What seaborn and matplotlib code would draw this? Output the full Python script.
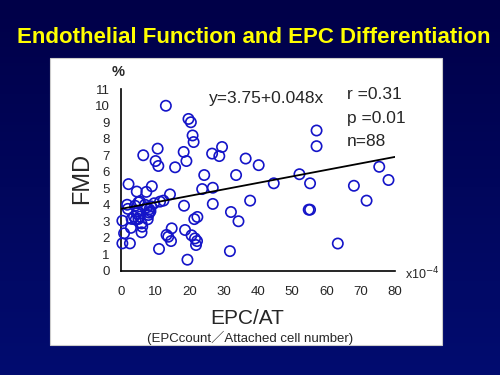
import numpy as np
import seaborn as sns
import matplotlib.pyplot as plt
from matplotlib.patches import Rectangle
from matplotlib.ticker import MultipleLocator

# EPC/AT (x10^-4) and FMD (%), 88 subjects
epc_at = [13.1, 19.7, 20.4, 20.9, 21.2, 6.5, 10.7, 10.1, 10.9, 15.8,
          18.3, 19.1, 24.3, 26.6, 28.7, 29.5, 33.6, 36.4, 40.2, 57.1,
          57.1, 52.1, 75.4, 78.1, 55.2, 68.0, 71.7, 54.8, 55.2, 63.3,
          44.6, 23.7, 26.8, 26.8, 37.7, 32.1, 34.3, 21.4, 22.3, 20.6,
          21.6, 22.2, 21.9, 31.8, 19.4, 18.4, 14.8, 13.3, 13.8, 14.6,
          11.1, 18.7, 14.3, 11.4, 12.4, 9.7, 2.2, 4.6, 7.4, 9.0,
          5.1, 1.8, 2.0, 4.1, 7.5, 8.3, 8.2, 8.0, 7.8, 4.6,
          3.8, 3.1, 5.1, 5.5, 6.0, 0.4, 2.9, 6.2, 6.0, 0.9,
          0.4, 2.6, 5.5, 8.6, 4.9, 7.0, 4.3, 8.8]
fmd = [10.0, 9.2, 9.0, 8.2, 7.8, 7.0, 7.4, 6.65, 6.35, 6.27,
       7.2, 6.65, 5.8, 7.1, 6.95, 7.5, 5.8, 6.8, 6.4, 8.5,
       7.55, 5.85, 6.3, 5.5, 5.3, 5.15, 4.25, 3.7, 3.7, 1.65,
       5.3, 4.95, 5.03, 4.05, 4.25, 3.56, 3.0, 3.13, 3.26, 2.15,
       1.96, 1.8, 1.56, 1.19, 0.67, 3.94, 2.57, 2.17, 2.06, 1.8,
       1.32, 2.47, 4.63, 4.19, 4.25, 4.09, 5.25, 4.8, 4.78, 5.12,
       4.15, 4.0, 3.75, 3.94, 3.84, 3.72, 3.52, 3.38, 3.12, 3.48,
       3.28, 3.14, 3.14, 3.28, 2.87, 3.03, 2.6, 2.67, 2.33, 2.27,
       1.66, 1.66, 4.2, 3.6, 3.6, 4.0, 3.1, 3.9]

# regression line as drawn on the slide
fit_x = [0, 80]
fit_y = [3.75, 6.9]

stats_text = ["r =0.31", "p =0.01", "n=88"]

sns.set_style("white")
plt.rcParams['font.family'] = ['Liberation Sans', 'DejaVu Sans']

fig = plt.figure(figsize=(5, 3.75), dpi=100)

# dark blue slide background
bg = fig.add_axes([0, 0, 1, 1], zorder=-10)
grad = np.linspace(0, 1, 256).reshape(-1, 1)
bg.imshow(grad, aspect='auto', extent=[0, 1, 0, 1], origin='upper',
          cmap=plt.matplotlib.colors.LinearSegmentedColormap.from_list(
              'slide', ['#000048', '#020c70']))
bg.axis('off')

# white panel
fig.patches.append(Rectangle((0.1, 0.08), 0.784, 0.765, transform=fig.transFigure,
                             facecolor='white', edgecolor='#cccccc', lw=0.8, zorder=-5))

fig.text(0.508, 0.899, "Endothelial Function and EPC Differentiation",
         ha='center', va='center', color='#ffff00', fontsize=16, fontweight='bold')

ax = fig.add_axes([0.242, 0.278, 0.548, 0.484])
ax.set_facecolor('none')
sns.scatterplot(x=epc_at, y=fmd, ax=ax, marker='o', s=55, facecolor='none',
                edgecolor='#1414c8', linewidth=1.2, clip_on=False, zorder=3)
sns.lineplot(x=fit_x, y=fit_y, ax=ax, color='black', lw=1.3, zorder=4)

ax.set_xlim(0, 80)
ax.set_ylim(0, 11)
ax.xaxis.set_major_locator(MultipleLocator(10))
ax.xaxis.set_minor_locator(MultipleLocator(5))
ax.yaxis.set_major_locator(MultipleLocator(1))
for s in ['top', 'right']:
    ax.spines[s].set_visible(False)
for s in ['left', 'bottom']:
    ax.spines[s].set_color('black')
    ax.spines[s].set_linewidth(1.2)
ax.tick_params(axis='both', which='both', direction='out', color='black',
               labelsize=9.5, width=1.0)
ax.tick_params(axis='x', which='major', length=4, pad=7)
ax.tick_params(axis='x', which='minor', length=4)
ax.tick_params(axis='y', which='major', length=4, pad=4)

ax.text(0.32, 0.95, "y=3.75+0.048x", transform=ax.transAxes, fontsize=12.5,
        ha='left', va='center')
for i, t in enumerate(stats_text):
    ax.text(0.824, 0.97 - i * 0.13, t, transform=ax.transAxes, fontsize=12.5,
            ha='left', va='center')

fig.text(0.236, 0.807, "%", fontsize=10.5, fontweight='bold', ha='center', va='center')
fig.text(0.81, 0.27, "x10$^{-4}$", fontsize=9, ha='left', va='center')
fig.text(0.164, 0.525, "FMD", rotation=90, fontsize=17, ha='center', va='center')
fig.text(0.494, 0.152, "EPC/AT", fontsize=15, ha='center', va='center')
fig.text(0.5, 0.099, "(EPCcount\uff0fAttached cell number)", fontsize=9.5,
         ha='center', va='center', family=['Liberation Sans', 'Noto Sans CJK JP'])

fig.savefig("out.png", dpi=100)
